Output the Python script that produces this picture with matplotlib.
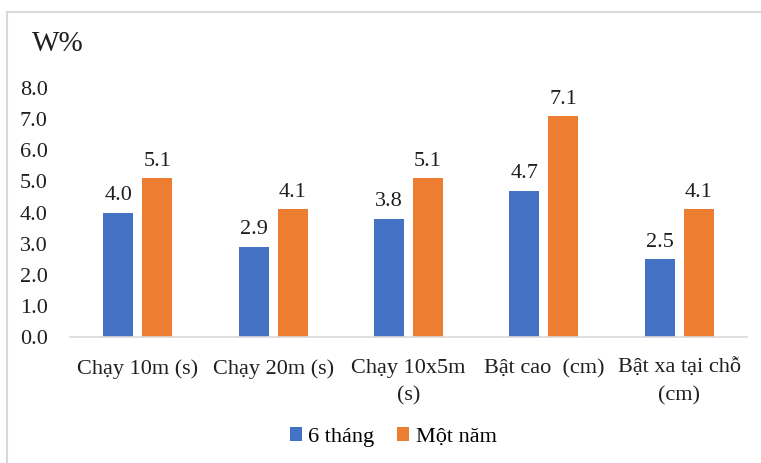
import matplotlib.pyplot as plt
import numpy as np
from matplotlib.lines import Line2D

plt.rcParams['font.family'] = ['Liberation Serif', 'DejaVu Serif']

categories = ["Chạy 10m (s)", "Chạy 20m (s)", "Chạy 10x5m\n(s)", "Bật cao  (cm)", "Bật xa tại chỗ\n(cm)"]
six_months = [4.0, 2.9, 3.8, 4.7, 2.5]
one_year = [5.1, 4.1, 5.1, 7.1, 4.1]
series_names = ["6 tháng", "Một năm"]
y_ticks = [0.0, 1.0, 2.0, 3.0, 4.0, 5.0, 6.0, 7.0, 8.0]

BLUE = "#4472C4"
ORANGE = "#ED7D31"
GRID = "#D9D9D9"
TEXT = "#1F1F1F"
FS = 16

fig = plt.figure(figsize=(7.61, 4.63), dpi=100)
ax = fig.add_axes([70 / 761, 1 - 337 / 463, 677 / 761, (337 - 88) / 463])

x = np.arange(len(categories))
w = 0.222
off = 0.144
b1 = ax.bar(x - off, six_months, w, color=BLUE, label=series_names[0])
b2 = ax.bar(x + off, one_year, w, color=ORANGE, label=series_names[1])

for bars, vals in ((b1, six_months), (b2, one_year)):
    for rect, v in zip(bars, vals):
        ax.annotate(f"{v:.1f}", (rect.get_x() + rect.get_width() / 2, v),
                    xytext=(0, 9), textcoords="offset points",
                    ha="center", va="baseline", fontsize=FS, color=TEXT)

ax.set_xlim(-0.5, len(categories) - 0.5)
ax.set_ylim(0, 8)
ax.set_yticks(y_ticks)
ax.set_yticklabels([f"{t:.1f}" for t in y_ticks])
ax.set_xticks(x)
ax.set_xticklabels(categories, linespacing=1.55)
ax.tick_params(axis="both", length=0, labelsize=FS, colors=TEXT)
ax.tick_params(axis="y", pad=16)
ax.tick_params(axis="x", pad=16)

for s in ("top", "right", "left"):
    ax.spines[s].set_visible(False)
ax.spines["bottom"].set_color(GRID)
ax.spines["bottom"].set_linewidth(1.2)

fig.text(32 / 761, 1 - 44 / 463, "W%", fontsize=21, va="center", ha="left", color=TEXT)

fig.legend(handles=[b1, b2], labels=series_names, loc="center",
           bbox_to_anchor=(393 / 761, 1 - 437 / 463), ncol=2, frameon=False,
           fontsize=FS, handlelength=0.55, handleheight=0.55, handletextpad=0.3,
           columnspacing=1.0)

# outer frame of the chart area (top and left edges)
fig.add_artist(Line2D([7 / 761, 1.0], [1 - 12 / 463, 1 - 12 / 463],
                      transform=fig.transFigure, color=GRID, lw=1.5))
fig.add_artist(Line2D([7 / 761, 7 / 761], [0.0, 1 - 12 / 463],
                      transform=fig.transFigure, color=GRID, lw=1.5))

fig.savefig("out.png", dpi=100)
